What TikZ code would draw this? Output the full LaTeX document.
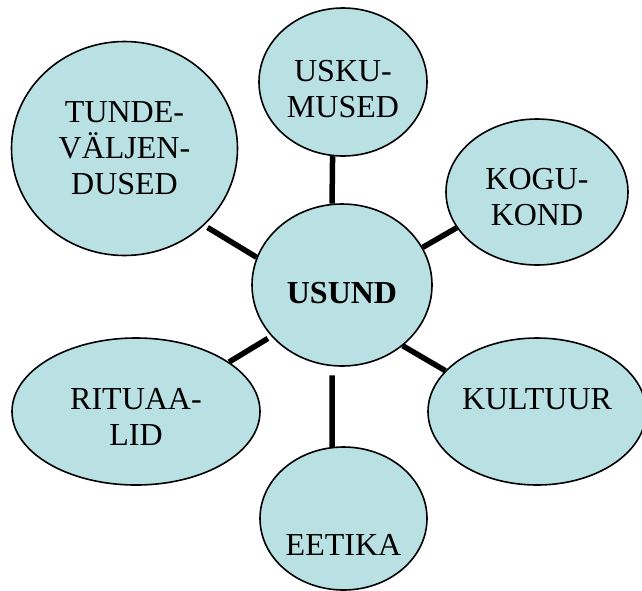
\documentclass[tikz,border=0pt]{standalone}
\usepackage{fontspec}
\setmainfont{Liberation Serif}
\usetikzlibrary{shapes.geometric}

\definecolor{bubblefill}{RGB}{185,224,227}

\begin{document}
\begin{tikzpicture}[x=1pt, y=-1pt,
        bubble/.style={ellipse, draw, line width=1.6pt, fill=bubblefill, inner sep=0pt, align=center, font=\fontsize{32}{36}\selectfont},
        link/.style={draw, line width=5.5pt}]
        \useasboundingbox (0,0) rectangle (642,590);

        \node[bubble, minimum width=180pt, minimum height=162pt, text height=36pt, text depth=0pt](usund) at (342,285){\textbf{USUND}};
        \node[bubble, minimum width=168pt, minimum height=148pt](usku) at (343,82){\rule{0pt}{36pt}USKU-\\MUSED};
        \node[bubble, minimum width=182pt, minimum height=146pt](kogu) at (537,192){\rule{0pt}{31pt}KOGU-\\KOND};
        \node[bubble, minimum width=226pt, minimum height=214pt](tunde) at (124.5,148.5){TUNDE-\\VÄLJEN-\\DUSED};
        \node[bubble, minimum width=248pt, minimum height=147pt](rituaalid) at (136,411.5){\rule{0pt}{33pt}RITUAA-\\LID};
        \node[bubble, minimum width=218pt, minimum height=147pt, text height=21pt, text depth=26pt](kultuur) at (537,411.5){KULTUUR};
        \node[bubble, minimum width=167pt, minimum height=143pt, text height=73pt, text depth=0pt](eetika) at (343.5,518.5){EETIKA};

        \path[link]
        (usku.262) edge (usund.97)
        (usund.263) edge[shorten <=9pt] (eetika.99)
        (usund.162) edge[shorten >=4pt] (tunde.316)
        (usund.25) edge (kogu.204)
        (usund.216) edge[shorten <=4pt] (rituaalid.28)
        (usund.315) edge (kultuur.156)
        ;
    \end{tikzpicture}
\end{document}
